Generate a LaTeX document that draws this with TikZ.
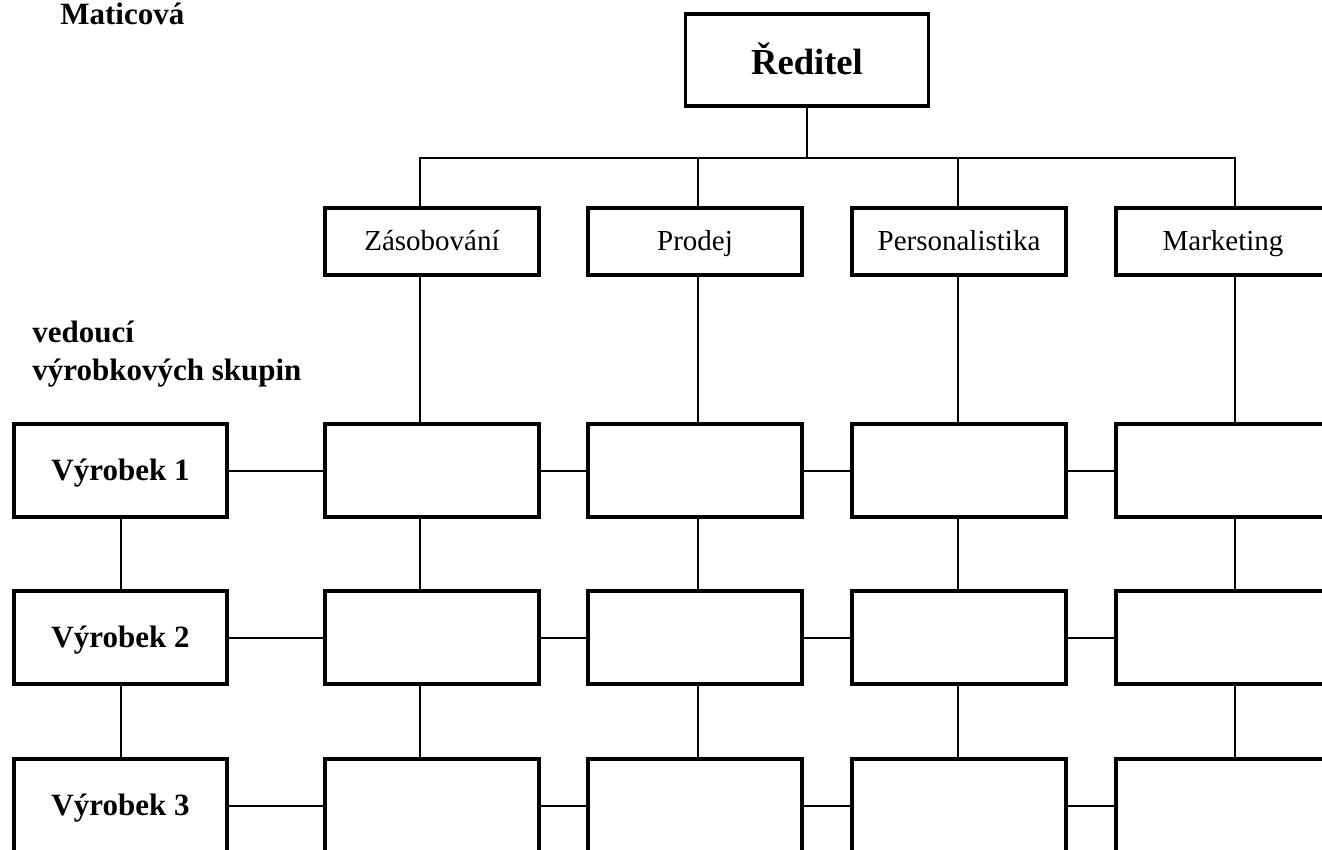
\documentclass[tikz,border=0pt]{standalone}
\usepackage{fontspec}
\setmainfont{Liberation Serif}
\usepackage{tikz}
\usetikzlibrary{calc}
\usetikzlibrary{positioning}

\begin{document}
\begin{tikzpicture}[
        x=0.5pt, y=-0.5pt,
        frame/.style={rectangle, draw=black, line width=1.8pt, inner sep=0},
        boss/.style={frame, minimum width=121.5pt, minimum height=46pt, text height=15pt, text depth=0pt, font=\fontsize{18.3}{22}\bfseries\selectfont},
        dept/.style={frame, minimum width=107pt, minimum height=33.5pt, text height=11pt, text depth=2pt, font=\fontsize{14.5}{17}\selectfont},
        cell/.style={frame, minimum width=107pt, minimum height=46.5pt},
        product/.style={cell, minimum width=106.5pt, text height=10.5pt, text depth=1pt, font=\fontsize{15.5}{18}\bfseries\selectfont},
        caption/.style={inner sep=0, anchor=base west, align=left, font=\fontsize{15.5}{19}\bfseries\selectfont},
        link/.style={draw=black, line width=1pt}
    ]
        % rozměr obrázku
        \useasboundingbox (0,0) rectangle (1322,850);
        \clip (0,0) rectangle (1322,850);

        % nadpisy
        \node[caption] (nadpis) at (60,25) {Maticová};
        \node[caption] (vedouci) at (32,380) {vedoucí\\výrobkových skupin};

        % ředitel
        \node[boss] (reditel) at (807,60) {Ředitel};
        \coordinate (bus) at (807,158);
        \draw[link] (reditel) -- (bus);

        % útvary a buňky matice
        \foreach \headtext/\x/\d [count=\c] in {
            Zásobování/432/420,
            Prodej/695/698,
            Personalistika/959/958,
            Marketing/1223/1235
        } {
            \node[dept] (head-\c) at (\x,241.5) {\headtext};
            \coordinate (drop-\c) at (\d,158);
            \foreach \r/\y in {1/470.5, 2/637.5, 3/805.5} {
                \node[cell] (cell-\r-\c) at (\x,\y) {};
            }
            \draw[link] (drop-\c) -- (drop-\c |- head-\c.north);
            \draw[link] (drop-\c |- head-\c.south) -- (drop-\c |- cell-1-\c.north);
            \draw[link] (drop-\c |- cell-1-\c.south) -- (drop-\c |- cell-2-\c.north);
            \draw[link] (drop-\c |- cell-2-\c.south) -- (drop-\c |- cell-3-\c.north);
        }
        \draw[link] (drop-1 |- head-1.north) -- (drop-1) -- (drop-4) -- (drop-4 |- head-4.north);

        % výrobkové skupiny
        \foreach \r/\y in {1/470.5, 2/637.5, 3/805.5} {
            \node[product] (prod-\r) at (120.5,\y) {Výrobek \r};
            \draw[link] (prod-\r) -- (cell-\r-1);
            \foreach \c [evaluate=\c as \n using int(\c+1)] in {1,2,3} {
                \draw[link] (cell-\r-\c) -- (cell-\r-\n);
            }
        }
        \draw[link] (prod-1) -- (prod-2);
        \draw[link] (prod-2) -- (prod-3);
    \end{tikzpicture}
\end{document}
